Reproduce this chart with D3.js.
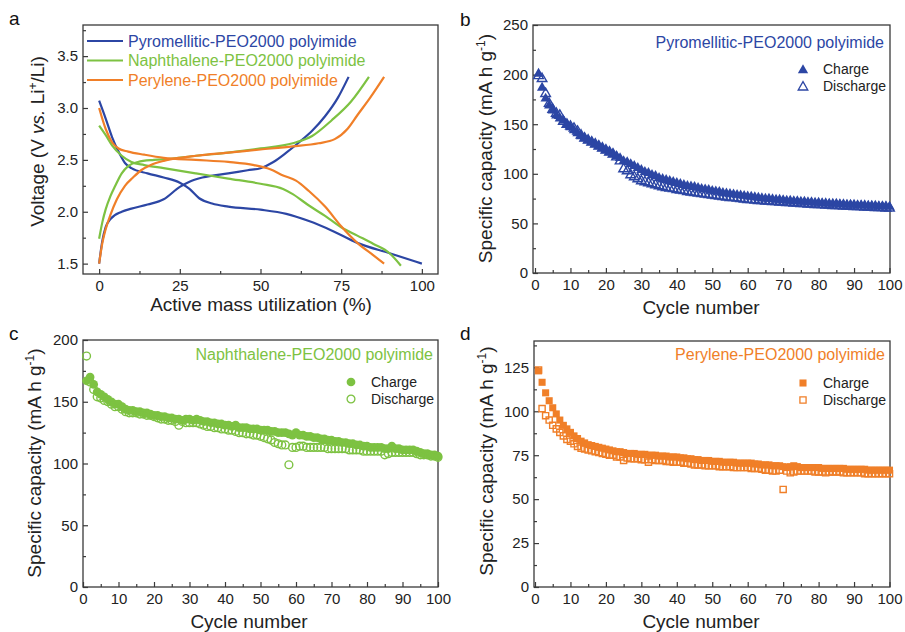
<!DOCTYPE html>
<html><head><meta charset="utf-8">
<script src="https://cdn.jsdelivr.net/npm/d3@7"></script>
<style>body{margin:0;background:#fff} svg{display:block} text{font-family:"Liberation Sans",Arial,sans-serif}</style>
</head><body><svg id="chart" width="905" height="632"></svg>
<script>
// ---------- Panel a: voltage profiles ----------
const seriesNames = ["Pyromellitic-PEO2000 polyimide","Naphthalene-PEO2000 polyimide","Perylene-PEO2000 polyimide"];
const pyroChargeX = [0,1,2,3.5,7,10,15,20,25,28,32,40,46,50,54,58,62,66,70,74,77.3];
const pyroChargeV = [1.5,1.72,1.85,1.93,2.0,2.03,2.07,2.12,2.24,2.29,2.33,2.37,2.4,2.42,2.48,2.57,2.67,2.78,2.92,3.1,3.3];
const pyroDisX = [0,2,4,6,8,10,15,20,25,28,31,35,40,50,58,65,72,80,90,100];
const pyroDisV = [3.07,2.9,2.72,2.58,2.47,2.42,2.37,2.33,2.28,2.22,2.13,2.08,2.05,2.02,1.98,1.91,1.82,1.7,1.6,1.5];
const naphChargeX = [0,1,2,3.5,5,7,9,12,17,22,30,40,50,60,66,72,78,83.6];
const naphChargeV = [1.74,1.9,2.02,2.15,2.25,2.37,2.44,2.48,2.5,2.51,2.54,2.57,2.61,2.66,2.73,2.88,3.06,3.3];
const naphDisX = [0,2,4,7,10,14,20,30,40,50,57,60,65,70,75,80,85,90,93.5];
const naphDisV = [2.83,2.74,2.64,2.54,2.48,2.45,2.42,2.37,2.32,2.27,2.22,2.17,2.06,1.96,1.85,1.77,1.69,1.6,1.48];
const peryChargeX = [0,1,2,3.5,5.5,8,10.5,13,16,20,25,30,40,50,60,68,73,77,80,84,88.3];
const peryChargeV = [1.5,1.7,1.83,1.97,2.12,2.25,2.33,2.4,2.45,2.49,2.52,2.54,2.57,2.6,2.63,2.66,2.7,2.8,2.93,3.1,3.3];
const peryDisX = [0,2,4,6,9,14,20,30,40,48,53,57,61,65,70,75,80,85,88.3];
const peryDisV = [3.0,2.8,2.67,2.61,2.58,2.55,2.52,2.5,2.48,2.45,2.41,2.35,2.3,2.2,2.05,1.86,1.7,1.58,1.5];
const aXTicks = [0,25,50,75,100];
const aYTicks = [1.5,2.0,2.5,3.0,3.5];

// ---------- Panels b-d: cycling ----------
const cycles = d3.range(1,101);
const pyroCharge = [202,188,177,170,165,160,157,155,151,148,
 145,142,139,137,135,133,131,129,127,125,
 123,121,119,117,114,113,111,109,107,105,
 103,102,100,99,97,96,95,94,93,92,
 91,90,89,88.5,88,87,86,85.5,85,84,
 83.5,83,82,81.5,81,80.5,80,79.5,79,78.5,
 78,77.5,77,76.5,76,76,75.5,75,75,74.5,
 74,74,73.5,73.5,73,73,72.5,72.5,72,72,
 71.5,71.5,71,71,71,70.5,70.5,70,70,70,
 69.5,69.5,69.5,69,69,69,68.5,68.5,68.5,68];
const pyroDischarge = [200,197,182,172,166,162,160,154,151,149,
 147,144,140,137,135,133,131,129,127,125,
 123,121,118,114,106,104,100,98,96,94,
 93,92,91,90,89,88,87,86.5,86,85,
 84.5,84,83,82.5,82,81.5,81,80.5,80,79.5,
 79,78.5,78,77.5,77,77,76.5,76,75.5,75,
 75,74.5,74,74,73.5,73.5,73,73,72.5,72.5,
 72,72,71.5,71.5,71,71,70.5,70.5,70,70,
 70,69.5,69.5,69,69,69,68.5,68.5,68.5,68,
 68,68,67.5,67.5,67.5,67,67,67,66.5,66.5];
const naphCharge = [167,170,164,158,156,154,152,150,148,148,
 146,144,143,143,142,142,141,141,140,139,
 139,138,138,137,137,136,136,135,136,136,
 135,136,135,134,134,133,133,132,132,131,
 131,130,131,129,129,129,128,128,128,127,
 127,127,126,126,125,125,125,124,123,125,
 123,123,122,122,121,121,120,120,119,119,
 118,118,117,117,116,116,115,115,114,114,
 113,113,113,113,112,112,114,112,112,111,
 111,111,111,110,109,108,108,107,107,106];
const naphDischarge = [187,166,160,154,153,151,150,148,146,146,
 144,142,141,141,141,140,140,139,139,138,
 137,136,136,135,135,134,131,134,133,133,
 133,133,132,131,130,130,129,129,128,128,
 127,127,126,125,125,124,124,123,123,122,
 121,120,119,117,116,115,115,99,113,113,
 114,114,113,113,113,113,113,113,112,112,
 112,112,112,112,111,111,111,111,110,110,
 110,110,110,110,107,108,109,109,109,109,
 109,109,109,108,107,107,107,106,106,105];
const peryCharge = [123,116.5,110.5,106,102,98.5,95,92,90,88,
 86,84.5,83,82,81,80.5,80,79.5,79,78.5,
 78,77.5,77,77,76.5,76,76,76,75.5,75.5,
 75.5,75,75,75,74.5,74.5,74.5,74,74,74,
 73.5,73.5,73,73,72.5,72.5,72,72,72,71.5,
 71.5,71.5,71,71,71,71,70.5,70.5,70.5,70.5,
 70.5,70,70,69.5,69.5,69.5,69,69,69,68.5,
 68,68.5,69,68.5,68,68,68,68,68,68,
 67.5,67.5,67.5,67.5,67.5,67.5,67.5,67,67,67,
 67,67,67,66.5,66.5,66.5,66.5,66.5,66.5,66.5];
const peryDischarge = [123.5,101.5,97.5,95,92,90,88,86,84,83,
 81.5,80,79,78.5,78,77.5,77,76.5,76,75.5,
 75,75,74,74,72,73.5,73,73,73,72.5,
 72.5,71,72.5,72,72,72,71.5,71.5,71,71,
 71,70.5,70.5,70,69.5,69.5,69.5,69,69,69,
 69,68.5,68.5,68.5,68.5,68,68,68,68,68,
 67.5,67.5,67.5,67,66.5,66.5,66,66,66.5,55.5,
 66,65,65.5,66,66,66,66,66,65.5,65.5,
 65.5,65,65.5,65.5,65.5,65.5,65,65,65,65,
 65,65,64.5,64.5,64.5,64.5,64.5,64.5,64.5,64.5];
const cycleTicks = d3.range(0,101,10);
const bYTicks = [0,50,100,150,200,250];
const cYTicks = [0,50,100,150,200];
const dYTicks = [0,25,50,75,100,125];
const legendLabels = ["Charge","Discharge"];

// ---------- drawing ----------
const BLUE="#2c46a4", GREEN="#7dc242", ORANGE="#f07f28", AX="#3a3a3a", TXT="#222";
const svg = d3.select("#chart");

function axes(box, x, y, xt, xm, yt, ym, xf, yf) {
  const g = svg.append("g");
  const style = sel => {
    sel.select(".domain").remove();
    sel.selectAll("line").attr("stroke",AX).attr("stroke-width",1.2);
    sel.selectAll("text").attr("font-size",15).attr("fill",TXT)
      .attr("font-family","Liberation Sans, Arial, sans-serif");
  };
  g.append("g").attr("transform",`translate(0,${box.b})`)
    .call(d3.axisBottom(x).tickValues(xt).tickSize(-5).tickPadding(6).tickFormat(xf)).call(style);
  g.append("g").attr("transform",`translate(0,${box.b})`)
    .call(d3.axisBottom(x).tickValues(xm).tickSize(-3).tickFormat("")).call(style);
  g.append("g").attr("transform",`translate(${box.l},0)`)
    .call(d3.axisLeft(y).tickValues(yt).tickSize(-5).tickPadding(5).tickFormat(yf)).call(style);
  g.append("g").attr("transform",`translate(${box.l},0)`)
    .call(d3.axisLeft(y).tickValues(ym).tickSize(-3).tickFormat("")).call(style);
  g.append("rect").attr("x",box.l).attr("y",box.t).attr("width",box.r-box.l).attr("height",box.b-box.t)
    .attr("fill","none").attr("stroke",AX).attr("stroke-width",1.3);
}
function label(txt, x, y) {
  svg.append("text").attr("x",x).attr("y",y).attr("font-size",19).attr("fill","#111").text(txt);
}
function xTitle(txt, x, y) {
  svg.append("text").attr("x",x).attr("y",y).attr("text-anchor","middle").attr("font-size",19).attr("fill",TXT).text(txt);
}
function capTitle(x, y) {
  const t = svg.append("text").attr("transform",`translate(${x},${y}) rotate(-90)`)
    .attr("text-anchor","middle").attr("font-size",19).attr("fill",TXT);
  t.append("tspan").text("Specific capacity (mA h g");
  t.append("tspan").attr("dy",-7).attr("font-size",12).text("-1");
  t.append("tspan").attr("dy",7).text(")");
}

// Panel a
{
  const box = {l:83, r:438, t:25, b:274};
  const x = d3.scaleLinear().domain([-5,105]).range([box.l,box.r]);
  const y = d3.scaleLinear().domain([1.4,3.8]).range([box.b,box.t]);
  axes(box, x, y, aXTicks, [12.5,37.5,62.5,87.5], aYTicks, [1.75,2.25,2.75,3.25,3.75], d=>d, d3.format(".1f"));
  const line = d3.line().x(d=>x(d[0])).y(d=>y(d[1])).curve(d3.curveMonotoneX);
  const curves = [
    [pyroChargeX,pyroChargeV,BLUE],[pyroDisX,pyroDisV,BLUE],
    [naphChargeX,naphChargeV,GREEN],[naphDisX,naphDisV,GREEN],
    [peryChargeX,peryChargeV,ORANGE],[peryDisX,peryDisV,ORANGE]];
  curves.forEach(([xs,vs,c]) => {
    svg.append("path").datum(xs.map((v,i)=>[v,vs[i]])).attr("d",line)
      .attr("fill","none").attr("stroke",c).attr("stroke-width",2.2);
  });
  const cols=[BLUE,GREEN,ORANGE];
  seriesNames.forEach((n,i)=>{
    const yy = 41 + i*19.5;
    svg.append("line").attr("x1",87).attr("x2",123).attr("y1",yy).attr("y2",yy).attr("stroke",cols[i]).attr("stroke-width",2.2);
    svg.append("text").attr("x",128).attr("y",yy+5.6).attr("font-size",16).attr("fill",cols[i]).text(n);
  });
  label("a", 9, 25);
  xTitle("Active mass utilization (%)", 261, 311);
  const t = svg.append("text").attr("transform",`translate(43.5,141.5) rotate(-90)`)
    .attr("text-anchor","middle").attr("font-size",19).attr("fill",TXT);
  t.append("tspan").text("Voltage (V ");
  t.append("tspan").attr("font-style","italic").text("vs.");
  t.append("tspan").text(" Li");
  t.append("tspan").attr("dy",-7).attr("font-size",12).text("+");
  t.append("tspan").attr("dy",7).text("/Li)");
}

function cyclePanel(cfg) {
  const {box, yDom, yt, ym, charge, discharge, color, shape, title, titleXY, legXY, letter, letterXY, yTitleXY, xTitleXY, xTickRange} = cfg;
  const x = d3.scaleLinear().domain([0,100]).range(xTickRange);
  const y = d3.scaleLinear().domain(yDom).range([box.b,box.t]);
  axes(box, x, y, cycleTicks, d3.range(5,100,10), yt, ym, d3.format("d"), d3.format("d"));
  const symF = d3.symbol().type(shape.type).size(shape.fill);
  const symO = d3.symbol().type(shape.type).size(shape.open);
  const dy = shape.type===d3.symbolTriangle ? 1.2 : 0;
  svg.append("g").selectAll("path").data(cycles).join("path")
    .attr("transform",(c,i)=>`translate(${x(c)},${y(charge[i])+dy})`).attr("d",symF).attr("fill",color);
  svg.append("g").selectAll("path").data(cycles).join("path")
    .attr("transform",(c,i)=>`translate(${x(c)},${y(discharge[i])+dy})`).attr("d",symO)
    .attr("fill","none").attr("stroke",color).attr("stroke-width",1.4);
  svg.append("text").attr("x",titleXY[0]).attr("y",titleXY[1]).attr("text-anchor","end")
    .attr("font-size",16).attr("fill",color).text(title);
  legendLabels.forEach((lab,i)=>{
    const ly = legXY[1] + i*17;
    svg.append("path").attr("transform",`translate(${legXY[0]},${ly+dy})`).attr("d", i===0?symF:symO)
      .attr("fill", i===0?color:"none").attr("stroke", i===0?"none":color).attr("stroke-width",1.3);
    svg.append("text").attr("x",legXY[0]+20).attr("y",ly+5).attr("font-size",14).attr("fill",TXT).text(lab);
  });
  label(letter, letterXY[0], letterXY[1]);
  xTitle("Cycle number", xTitleXY[0], xTitleXY[1]);
  capTitle(yTitleXY[0], yTitleXY[1]);
}

cyclePanel({box:{l:533,r:890,t:25,b:273}, xTickRange:[535,889.5], yDom:[0,250], yt:bYTicks, ym:[25,75,125,175,225],
  charge:pyroCharge, discharge:pyroDischarge, color:BLUE, shape:{type:d3.symbolTriangle, fill:46, open:40},
  title:seriesNames[0], titleXY:[884,48], legXY:[803,69], letter:"b", letterXY:[460,26],
  yTitleXY:[492,148.5], xTitleXY:[701,314]});
cyclePanel({box:{l:83,r:438,t:340,b:587}, xTickRange:[83,438], yDom:[0,200], yt:cYTicks, ym:[25,75,125,175],
  charge:naphCharge, discharge:naphDischarge, color:GREEN, shape:{type:d3.symbolCircle, fill:60, open:48},
  title:seriesNames[1], titleXY:[433,360], legXY:[351,382], letter:"c", letterXY:[9,340],
  yTitleXY:[41,463], xTitleXY:[249,628]});
cyclePanel({box:{l:534,r:890,t:341,b:587}, xTickRange:[535,889.5], yDom:[0,140], yt:dYTicks, ym:[12.5,37.5,62.5,87.5,112.5,137.5],
  charge:peryCharge, discharge:peryDischarge, color:ORANGE, shape:{type:d3.symbolSquare, fill:50, open:38},
  title:seriesNames[2], titleXY:[885,360], legXY:[803,383], letter:"d", letterXY:[460,340],
  yTitleXY:[493,461], xTitleXY:[701,628]});
</script></body></html>
